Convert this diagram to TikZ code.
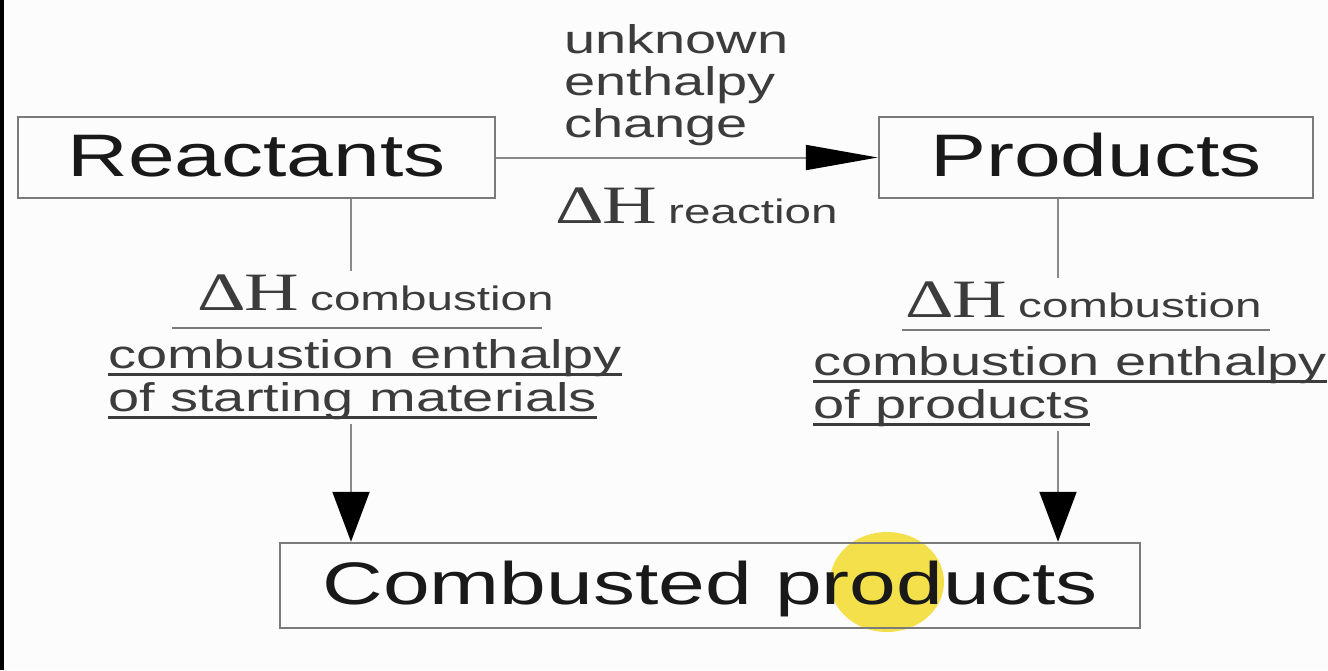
\documentclass[tikz,border=0pt]{standalone}
\usepackage{fontspec}
\setmainfont{Liberation Sans}
\newfontfamily\serifH{Liberation Serif}
\usepackage{graphicx}
\usetikzlibrary{arrows.meta}
\definecolor{bg}{HTML}{FCFCFC}
\definecolor{boxc}{HTML}{7A7A7A}
\definecolor{linec}{HTML}{8A8A8A}
\definecolor{labc}{HTML}{3C3C3C}
\definecolor{hl}{HTML}{F4E04A}
\newcommand\sx[1]{\scalebox{1.4}[1]{#1}}
\newcommand\ulx[1]{\setbox0\hbox{#1}\rlap{\color{labc}\rule[-7.5pt]{\wd0}{3pt}}\box0}
\newcommand\dH[1]{{\fontsize{54}{54}\serifH Δ\kern-1pt H}\hspace{8pt}{\fontsize{34}{34}\selectfont #1}}
\begin{document}
\begin{tikzpicture}[x=1pt,y=-1pt,
  box/.style={draw=boxc, line width=2.5pt, inner sep=0pt, text height=44pt, text depth=6pt, font=\fontsize{60}{60}\selectfont, text=black!90},
  lab/.style={inner sep=0pt, text=labc, font=\fontsize{40}{40}\selectfont},
  conn/.style={draw=linec, line width=2pt},
  bar/.style={draw=boxc, line width=2pt},
  harrow/.style={-{Triangle[length=72pt,width=25pt,color=black]}},
  varrow/.style={-{Triangle[length=50pt,width=37pt,color=black]}}
]
\fill[bg] (0,0) rectangle (1328,670);
\fill[black] (0,0) rectangle (3.5,670);
\useasboundingbox (0,0) rectangle (1328,670);
\fill[hl] (887,582) ellipse [x radius=57, y radius=50];

\node[box, minimum width=477pt, minimum height=81pt] (R) at (256.5,157.5) {\sx{Reactants}};
\node[box, minimum width=434pt, minimum height=81pt] (P) at (1096,157.5) {\sx{Products}};
\node[box, minimum width=860pt, minimum height=85pt] (C) at (710,585.5) {\sx{Combusted products}};

\node[lab, anchor=base west] (u1) at (564,53) {\sx{unknown}};
\node[lab, anchor=base west] (u2) at (564,95) {\sx{enthalpy}};
\node[lab, anchor=base west] (u3) at (564,137) {\sx{change}};
\node[lab, anchor=base west] (hr) at (555,223) {\sx{\dH{reaction}}};

\node[lab, anchor=base west, inner ysep=3pt] (lh) at (197,310) {\sx{\dH{combustion}}};
\draw[bar] (172,328) -- (542,328);
\node[lab, anchor=base west] (l1) at (108,368) {\sx{\ulx{combustion enthalpy}}};
\node[lab, anchor=base west, inner ysep=4pt] (l2) at (108,411) {\sx{\ulx{of starting materials}}};

\node[lab, anchor=base west, inner ysep=3pt] (rh) at (905,317) {\sx{\dH{combustion}}};
\draw[bar] (902,330) -- (1270,330);
\node[lab, anchor=base west] (r1) at (813,375) {\sx{\ulx{combustion enthalpy}}};
\node[lab, anchor=base west, inner ysep=4pt] (r2) at (813,418) {\sx{\ulx{of products}}};

\coordinate (lx) at (351,0);
\coordinate (rx) at (1058,0);
\draw[conn, harrow] (R.east) -- (P.west);
\draw[conn] (R.south -| lx) -- (lh.north -| lx);
\draw[conn, varrow] (l2.south -| lx) -- (C.north -| lx);
\draw[conn] (P.south -| rx) -- (rh.north -| rx);
\draw[conn, varrow] (r2.south -| rx) -- (C.north -| rx);
\end{tikzpicture}
\end{document}
